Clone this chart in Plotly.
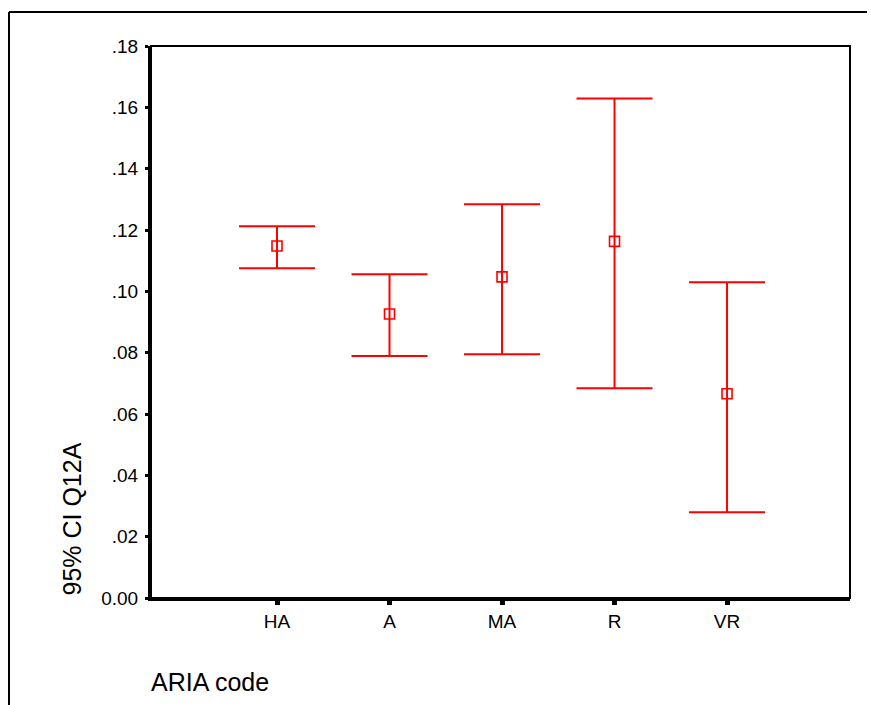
import plotly.graph_objects as go

# ARIA remoteness categories and 95% confidence intervals for Q12A
categories = ["HA", "A", "MA", "R", "VR"]
means = [0.1148, 0.0926, 0.1047, 0.1163, 0.0666]
upper = [0.1212, 0.1056, 0.1284, 0.1629, 0.1030]
lower = [0.1075, 0.0789, 0.0795, 0.0684, 0.0280]

y_tickvals = [0.0, 0.02, 0.04, 0.06, 0.08, 0.10, 0.12, 0.14, 0.16, 0.18]
y_ticktext = ["0.00", ".02", ".04", ".06", ".08", ".10", ".12", ".14", ".16", ".18"]

err_plus = [u - m for u, m in zip(upper, means)]
err_minus = [m - l for m, l in zip(means, lower)]

RED = "#FF0000"
FONT = "Liberation Sans, Arial, sans-serif"

fig = go.Figure(
    go.Scatter(
        x=categories,
        y=means,
        mode="markers",
        marker=dict(symbol="square-open", size=10, color=RED, line=dict(width=1.6, color=RED)),
        error_y=dict(
            type="data",
            symmetric=False,
            array=err_plus,
            arrayminus=err_minus,
            color=RED,
            thickness=2,
            width=38,
        ),
        showlegend=False,
    )
)

fig.update_layout(
    width=871,
    height=705,
    margin=dict(l=151, r=21, t=46, b=107),
    paper_bgcolor="white",
    plot_bgcolor="white",
    font=dict(family=FONT, size=19, color="black"),
)

fig.update_xaxes(
    type="category",
    range=[-1.12, 5.093],
    showgrid=False,
    zeroline=False,
    showline=True,
    linecolor="black",
    linewidth=3,
    ticks="outside",
    ticklen=4,
    tickwidth=5,
    tickcolor="black",
    ticklabelstandoff=0,
    tickfont=dict(family=FONT, size=19),
)

fig.update_yaxes(
    range=[0, 0.18],
    tickvals=y_tickvals,
    ticktext=y_ticktext,
    showgrid=False,
    zeroline=False,
    showline=True,
    linecolor="black",
    linewidth=3,
    ticks="outside",
    ticklen=3,
    tickwidth=3,
    tickcolor="black",
    ticklabelstandoff=3,
    tickfont=dict(family=FONT, size=19),
)

frame_left = (9 - 151) / 699
frame_top = (598 - 12) / 552
shapes = [
    # thin frame around the plotting area (top and right edges)
    dict(type="rect", xref="paper", yref="paper", x0=0, x1=1, y0=0, y1=1,
         line=dict(color="black", width=2), layer="above"),
    # outer chart frame: left and top edges
    dict(type="line", xref="paper", yref="paper",
         x0=frame_left, x1=frame_left, y0=(598 - 705) / 552, y1=frame_top,
         line=dict(color="black", width=2), layer="above"),
    dict(type="line", xref="paper", yref="paper",
         x0=frame_left, x1=(867 - 151) / 699, y0=frame_top, y1=frame_top,
         line=dict(color="black", width=2), layer="above"),
]
fig.update_layout(shapes=shapes)

fig.add_annotation(
    text="95% CI Q12A", textangle=-90,
    xref="paper", yref="y", x=(71 - 151) / 699, y=0,
    xanchor="center", yanchor="bottom",
    showarrow=False, font=dict(family=FONT, size=25),
)
fig.add_annotation(
    text="ARIA code",
    xref="paper", yref="paper", x=(149 - 151) / 699, y=(598 - 682) / 552,
    xanchor="left", yanchor="middle",
    showarrow=False, font=dict(family=FONT, size=25),
)

fig.write_html("out.html")
